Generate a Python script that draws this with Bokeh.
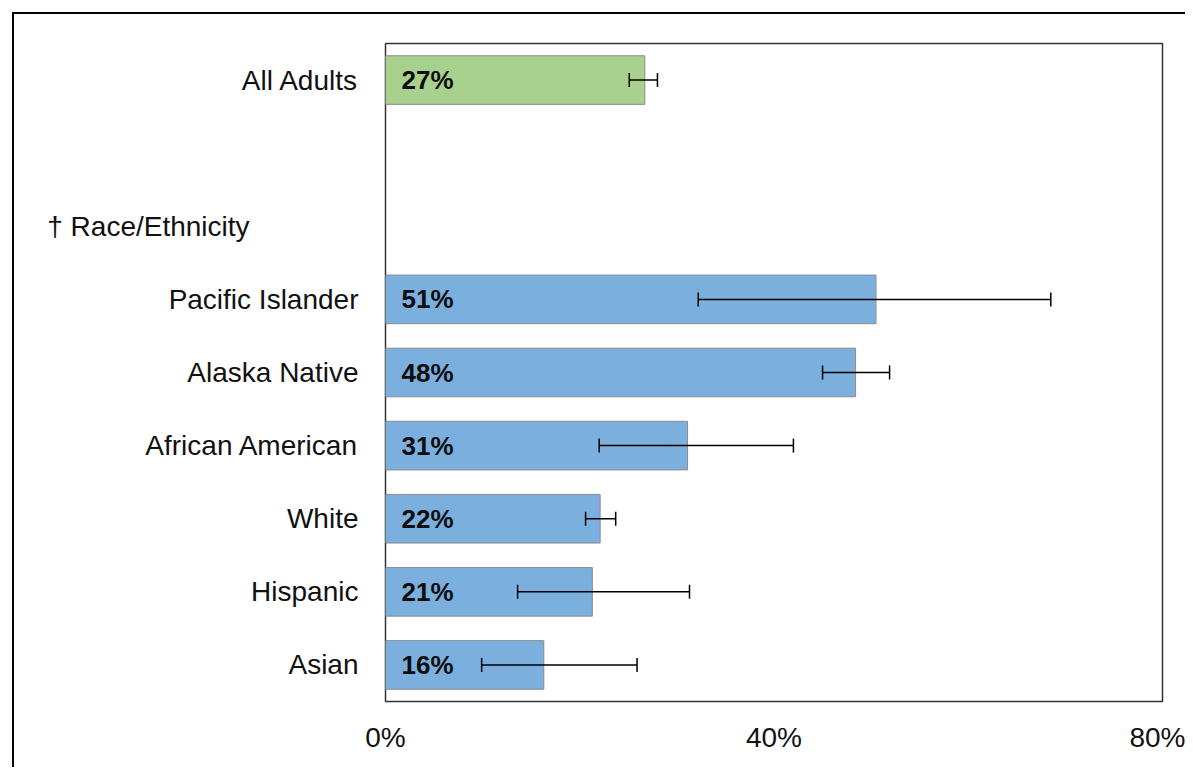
from bokeh.plotting import figure
from bokeh.models import ColumnDataSource, Whisker, TeeHead, FixedTicker, Range1d
from bokeh.core.properties import value
from bokeh.embed import file_html
from bokeh.resources import INLINE

# ---- data ----
row_labels = ["All Adults", "", "† Race/Ethnicity", "Pacific Islander", "Alaska Native",
              "African American", "White", "Hispanic", "Asian"]
groups = ["All Adults", "Pacific Islander", "Alaska Native", "African American",
          "White", "Hispanic", "Asian"]
values = [26.7, 50.5, 48.4, 31.1, 22.1, 21.3, 16.3]
value_labels = ["27%", "51%", "48%", "31%", "22%", "21%", "16%"]
err_low = [25.1, 32.2, 45.0, 22.0, 20.6, 13.6, 9.9]
err_high = [28.0, 68.5, 51.9, 42.0, 23.7, 31.3, 25.9]
colors = ["#A9D18E", "#7BAFDE", "#7BAFDE", "#7BAFDE", "#7BAFDE", "#7BAFDE", "#7BAFDE"]
x_ticks = [0, 40, 80]
x_tick_labels = ["0%", "40%", "80%"]
section_label = "† Race/Ethnicity"

FONT = "Liberation Sans"

ypos = [row_labels.index(g) for g in groups]
sec_pos = row_labels.index(section_label)

src = ColumnDataSource(dict(y=ypos, v=values, lab=value_labels, lo=err_low, hi=err_high,
                            c=colors, zero=[0] * len(groups)))

p = figure(frame_width=777, frame_height=658,
           min_border_left=373, min_border_top=31, min_border_right=23, min_border_bottom=66,
           x_range=Range1d(0, 80), y_range=Range1d(len(row_labels) - 0.5, -0.5),
           output_backend="svg", toolbar_location=None, tools="")
p.margin = (12, 0, 0, 12)
p.styles = {"box-shadow": "inset 2px 2px 0 0 #000000"}
p.border_fill_color = None
p.background_fill_color = "white"
p.outline_line_color = "#333333"
p.outline_line_width = 1.5

p.hbar(y="y", left="zero", right="v", height=0.665, fill_color="c",
       line_color="#8C8C8C", line_width=1, source=src)

tee = dict(size=14, line_width=1.5, line_color="black")
wh = Whisker(base="y", lower="lo", upper="hi", dimension="width", source=src,
             line_width=1.5, line_color="black",
             lower_head=TeeHead(**tee), upper_head=TeeHead(**tee))
wh.level = "overlay"
p.add_layout(wh)

p.text(x="zero", y="y", text="lab", source=src, x_offset=16,
       text_font=value(FONT), text_font_style="bold", text_font_size="26px",
       text_baseline="middle", text_align="left", text_color="#0d0d0d")

p.xgrid.visible = False
p.ygrid.visible = False

xa = p.xaxis[0]
xa.ticker = FixedTicker(ticks=x_ticks)
xa.major_label_overrides = {t: l for t, l in zip(x_ticks, x_tick_labels)}
xa.axis_line_color = None
xa.major_tick_line_color = None
xa.minor_tick_line_color = None
xa.major_label_standoff = 14
xa.major_label_text_font = FONT
xa.major_label_text_font_size = "28px"
xa.major_label_text_color = "#111111"

# the section heading sits left-aligned; non-breaking spaces pad it leftwards
overrides = {i: row_labels[i] for i in ypos}
overrides[sec_pos] = section_label + "\u00a0" * 14
ya = p.yaxis[0]
ya.ticker = FixedTicker(ticks=ypos + [sec_pos])
ya.major_label_overrides = overrides
ya.axis_line_color = None
ya.major_tick_line_color = None
ya.minor_tick_line_color = None
ya.major_label_standoff = 21
ya.major_label_text_font = FONT
ya.major_label_text_font_size = "28px"
ya.major_label_text_color = "#111111"

open("out.html", "w").write(file_html(p, INLINE))
